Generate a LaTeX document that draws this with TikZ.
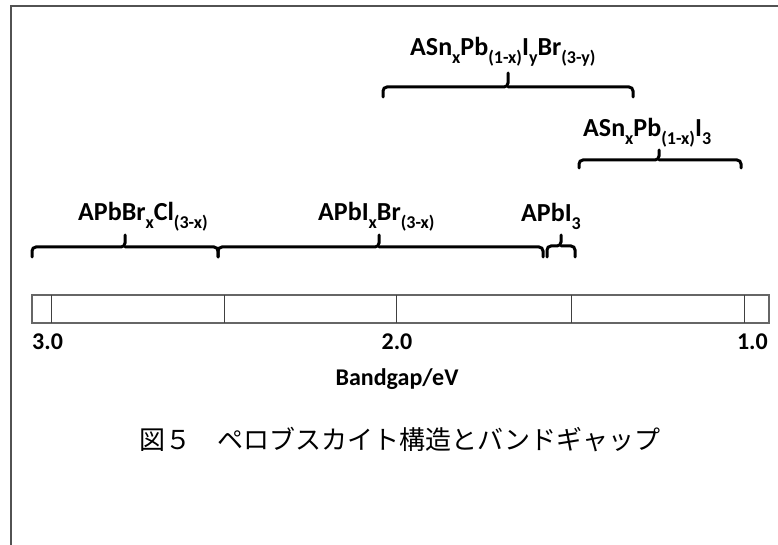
\documentclass[tikz,border=0pt]{standalone}
\usepackage{fontspec}
\setmainfont{Carlito}
\newfontfamily\jpfont{Noto Sans CJK JP}
\newcommand\lowidx[1]{\raisebox{-0.28em}{\fontsize{18bp}{18bp}\selectfont #1}}
\begin{document}
\begin{tikzpicture}[x=1bp,y=-1bp,
  frameline/.style={draw=black!68,line width=2bp},
  barline/.style={draw=black!60,line width=1.6bp},
  tickline/.style={draw=black!75,line width=1bp},
  bracket/.style={draw=black,line width=3bp,rounded corners=4bp,line cap=round},
  formula/.style={inner sep=0pt,font=\fontsize{26bp}{30bp}\selectfont\bfseries,anchor=base west},
  axisnum/.style={inner sep=0pt,font=\fontsize{24bp}{28bp}\selectfont\bfseries},
  caption/.style={inner sep=0pt,font=\fontsize{26bp}{30bp}\selectfont\jpfont}]
\useasboundingbox (0,0) rectangle (778,545);
\clip (0,0) rectangle (778,545);
% outer frame (runs past the right and bottom edges)
\draw[frameline] (11,6) rectangle (800,570);

% energy axis bar with ticks every 0.5 eV
\draw[barline] (32,295) rectangle (769,323);
\foreach \t/\xv in {t30/51,t25/224,t20/396,t15/571,t10/744}{
  \coordinate (\t a) at (\xv,295);
  \coordinate (\t b) at (\xv,323);
  \draw[tickline] (\t a) -- (\t b);
}
\node[axisnum,anchor=base west] (n30) at (32,349) {3.0};
\node[axisnum,anchor=base] (n20) at (397,349) {2.0};
\node[axisnum,anchor=base east] (n10) at (768,349) {1.0};
\node[axisnum,anchor=base] (axlabel) at (397,385) {Bandgap/eV};

% range brackets
\draw[bracket] (32,257) |- (125,247) -- (125,235);
\draw[bracket] (125,247) -| (218,257);
\draw[bracket] (218,257) |- (379,247) -- (379,235);
\draw[bracket] (379,247) -| (543,257);
\draw[bracket] (547,257) |- (561,246) -- (561,235);
\draw[bracket] (561,246) -| (575,257);
\draw[bracket] (579,168) |- (659,160) -- (659,150);
\draw[bracket] (659,160) -| (741,168);
\draw[bracket] (383,97) |- (508,87) -- (508,73);
\draw[bracket] (508,87) -| (633,97);

% compositions
\node[formula] (f1) at (78,221) {APbBr\lowidx{x}Cl\lowidx{(3-x)}};
\node[formula] (f2) at (318,221) {APbI\lowidx{x}Br\lowidx{(3-x)}};
\node[formula] (f3) at (521,222) {APbI\lowidx{3}};
\node[formula] (f4) at (583,137) {ASn\lowidx{x}Pb\lowidx{(1-x)}I\lowidx{3}};
\node[formula] (f5) at (410,56) {ASn\lowidx{x}Pb\lowidx{(1-x)}I\lowidx{y}Br\lowidx{(3-y)}};

% caption
\node[caption] (cap) at (400,440) {図５　ペロブスカイト構造とバンドギャップ};
\end{tikzpicture}
\end{document}
